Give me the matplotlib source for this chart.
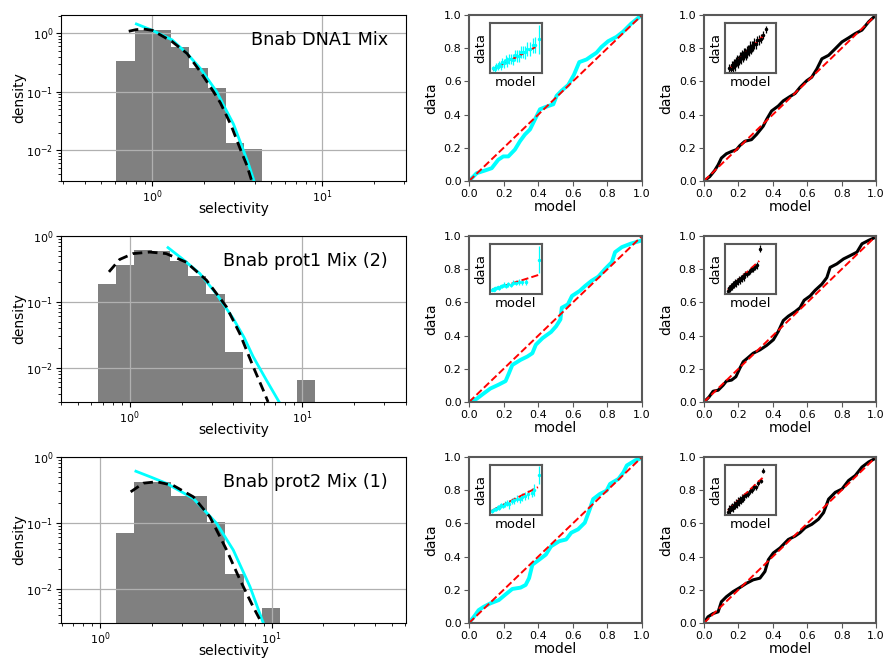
import numpy as np
import matplotlib
matplotlib.use('Agg')
import matplotlib.pyplot as plt

# ---- histogram panels (left column) ----
titles = ['Bnab DNA1 Mix', 'Bnab prot1 Mix (2)', 'Bnab prot2 Mix (1)']

edges_1 = [0.614, 0.786, 1.006, 1.288, 1.649, 2.110, 2.701, 3.457, 4.425]
heights_1 = [0.336, 1.13, 1.13, 0.58, 0.258, 0.117, 0.0132, 0.0105]
edges_2 = [0.652, 0.831, 1.058, 1.348, 1.718, 2.188, 2.788, 3.552, 4.525, 5.765, 7.345, 9.357, 11.92]
heights_2 = [0.185, 0.36, 0.62, 0.60, 0.42, 0.245, 0.13, 0.017, 0, 0, 0, 0.0065]
edges_3 = [1.24, 1.583, 2.022, 2.582, 3.297, 4.211, 5.377, 6.867, 8.769, 11.2]
heights_3 = [0.069, 0.41, 0.41, 0.254, 0.254, 0.102, 0.0167, 0, 0.0050]

# fitted densities
black_1_x = [0.726, 0.80, 0.889, 1.0, 1.306, 1.6, 1.915, 2.29, 2.51, 2.9, 3.31, 3.6, 3.84]
black_1_y = [1.08, 1.15, 1.18, 1.12, 0.72, 0.45, 0.22, 0.1, 0.065, 0.027, 0.01, 0.0055, 0.003]
cyan_1_x = [0.805, 1.0, 1.306, 1.6, 1.915, 2.39, 2.63, 3.0, 3.43, 3.7, 3.96]
cyan_1_y = [1.44, 1.12, 0.77, 0.45, 0.25, 0.1, 0.058, 0.028, 0.01, 0.0055, 0.003]
black_2_x = [0.759, 0.875, 1.045, 1.31, 1.63, 2.13, 2.79, 3.64, 4.35, 5.2, 5.94, 6.35]
black_2_y = [0.285, 0.44, 0.54, 0.57, 0.54, 0.40, 0.213, 0.084, 0.033, 0.0104, 0.0046, 0.003]
cyan_2_x = [1.67, 2.0, 2.55, 3.2, 3.98, 4.6, 5.2, 6.2, 7.36]
cyan_2_y = [0.666, 0.46, 0.27, 0.13, 0.056, 0.029, 0.0147, 0.0065, 0.003]
black_3_x = [1.51, 1.79, 2.14, 2.67, 3.5, 4.37, 5.47, 6.55, 7.8, 8.75]
black_3_y = [0.295, 0.40, 0.42, 0.37, 0.248, 0.123, 0.0385, 0.0135, 0.0053, 0.003]
cyan_3_x = [1.62, 2.0, 2.45, 3.5, 4.78, 5.98, 7.48, 8.94]
cyan_3_y = [0.607, 0.49, 0.395, 0.234, 0.098, 0.0385, 0.0107, 0.003]

hist_xlims = [(0.29, 31.0), (0.40, 40.0), (0.593, 60.6)]
hist_ylims = [(3e-3, 2.05), (3e-3, 1.0), (3e-3, 1.0)]

# ---- P-P curves (middle: cyan, right: black) ----
mid_1_x = [0, 0.044, 0.092, 0.131, 0.169, 0.198, 0.227, 0.265, 0.294, 0.323, 0.352, 0.381, 0.41, 0.448, 0.487,
           0.506, 0.535, 0.573, 0.606, 0.637, 0.679, 0.708, 0.737, 0.765, 0.804, 0.852, 0.89, 0.938, 0.987, 1.0]
mid_1_y = [0, 0.047, 0.063, 0.077, 0.128, 0.148, 0.148, 0.189, 0.239, 0.280, 0.310, 0.371, 0.432, 0.448, 0.462,
           0.513, 0.544, 0.578, 0.639, 0.716, 0.732, 0.753, 0.773, 0.807, 0.842, 0.868, 0.899, 0.949, 0.99, 1.0]
right_1_x = [0, 0.033, 0.062, 0.082, 0.101, 0.13, 0.16, 0.189, 0.208, 0.237, 0.276, 0.305, 0.344, 0.364, 0.393,
             0.432, 0.461, 0.5, 0.529, 0.558, 0.597, 0.626, 0.656, 0.685, 0.724, 0.763, 0.802, 0.84, 0.879, 0.918,
             0.957, 0.996]
right_1_y = [0, 0.026, 0.063, 0.097, 0.138, 0.164, 0.178, 0.189, 0.213, 0.239, 0.249, 0.28, 0.33, 0.371, 0.422,
             0.452, 0.483, 0.509, 0.527, 0.564, 0.604, 0.625, 0.675, 0.736, 0.757, 0.797, 0.838, 0.862, 0.888, 0.909,
             0.959, 0.996]
mid_2_x = [0, 0.045, 0.084, 0.123, 0.172, 0.211, 0.23, 0.25, 0.298, 0.337, 0.366, 0.386, 0.425, 0.474, 0.503,
           0.528, 0.536, 0.571, 0.595, 0.639, 0.672, 0.708, 0.747, 0.786, 0.825, 0.844, 0.883, 0.932, 1.0]
mid_2_y = [0, 0.02, 0.051, 0.081, 0.105, 0.126, 0.172, 0.223, 0.254, 0.274, 0.294, 0.345, 0.385, 0.422, 0.456,
           0.497, 0.568, 0.588, 0.639, 0.669, 0.7, 0.73, 0.755, 0.801, 0.842, 0.903, 0.933, 0.953, 0.974]
right_2_x = [0, 0.029, 0.053, 0.082, 0.111, 0.13, 0.16, 0.185, 0.208, 0.228, 0.257, 0.286, 0.325, 0.364, 0.403,
             0.432, 0.461, 0.49, 0.529, 0.558, 0.582, 0.617, 0.646, 0.685, 0.714, 0.733, 0.772, 0.811, 0.85, 0.889,
             0.918, 0.957, 1.0]
right_2_y = [0, 0.03, 0.065, 0.071, 0.101, 0.126, 0.132, 0.152, 0.203, 0.243, 0.268, 0.294, 0.314, 0.341, 0.375,
             0.426, 0.491, 0.517, 0.544, 0.568, 0.613, 0.639, 0.673, 0.71, 0.75, 0.811, 0.832, 0.862, 0.882, 0.903,
             0.953, 0.974, 0.994]
mid_3_x = [0, 0.035, 0.055, 0.084, 0.123, 0.172, 0.211, 0.25, 0.298, 0.327, 0.347, 0.366, 0.405, 0.444, 0.474,
           0.522, 0.561, 0.591, 0.63, 0.669, 0.698, 0.717, 0.756, 0.795, 0.815, 0.864, 0.893, 0.912, 0.961, 1.0]
mid_3_y = [0, 0.047, 0.077, 0.097, 0.118, 0.138, 0.172, 0.205, 0.213, 0.229, 0.27, 0.351, 0.381, 0.412, 0.462,
           0.493, 0.503, 0.544, 0.564, 0.604, 0.686, 0.746, 0.777, 0.797, 0.838, 0.868, 0.909, 0.949, 0.98, 0.994]
right_3_x = [0, 0.023, 0.053, 0.082, 0.101, 0.13, 0.169, 0.208, 0.247, 0.286, 0.325, 0.354, 0.374, 0.403, 0.442,
             0.471, 0.49, 0.529, 0.558, 0.588, 0.626, 0.665, 0.695, 0.724, 0.763, 0.802, 0.84, 0.879, 0.918, 0.957,
             1.0]
right_3_y = [0, 0.037, 0.057, 0.067, 0.128, 0.158, 0.189, 0.213, 0.239, 0.26, 0.27, 0.31, 0.381, 0.422, 0.452,
             0.483, 0.503, 0.523, 0.544, 0.574, 0.594, 0.625, 0.665, 0.746, 0.787, 0.807, 0.858, 0.888, 0.939, 0.97,
             0.994]

# ---- inset scatter (model vs data with errors), inset units ----
ins_mid_1_x = [0.06, 0.09, 0.12, 0.15, 0.18, 0.21, 0.24, 0.27, 0.30, 0.33, 0.36, 0.40, 0.44, 0.48, 0.52, 0.56,
               0.60, 0.64, 0.68, 0.72, 0.77, 0.82, 0.87, 0.936]
ins_mid_1_y = [0.095, 0.082, 0.139, 0.125, 0.181, 0.138, 0.224, 0.201, 0.267, 0.213, 0.28, 0.292, 0.264, 0.356,
               0.348, 0.34, 0.431, 0.423, 0.415, 0.487, 0.485, 0.562, 0.559, 0.676]
ins_mid_1_e = [0.05, 0.06, 0.06, 0.07, 0.07, 0.08, 0.08, 0.09, 0.09, 0.10, 0.10, 0.10, 0.11, 0.11, 0.12, 0.12,
               0.12, 0.13, 0.13, 0.14, 0.14, 0.15, 0.16, 0.29]
ins_mid_1_line = [0.05, 0.89]
ins_mid_1_liney = [0.07, 0.53]

ins_right_1_x = [0.09, 0.11, 0.13, 0.15, 0.17, 0.19, 0.21, 0.23, 0.25, 0.27, 0.29, 0.31, 0.33, 0.35, 0.37, 0.39,
                 0.41, 0.43, 0.45, 0.47, 0.49, 0.51, 0.53, 0.55, 0.57, 0.60, 0.63, 0.66, 0.70, 0.74, 0.795]
ins_right_1_y = [0.10, 0.09, 0.16, 0.14, 0.19, 0.16, 0.22, 0.26, 0.23, 0.27, 0.31, 0.30, 0.36, 0.33, 0.38, 0.41,
                 0.38, 0.43, 0.47, 0.46, 0.52, 0.49, 0.54, 0.55, 0.59, 0.58, 0.66, 0.66, 0.69, 0.76, 0.88]
ins_right_1_e = [0.09, 0.10, 0.09, 0.11, 0.10, 0.12, 0.10, 0.11, 0.12, 0.10, 0.11, 0.12, 0.10, 0.11, 0.12, 0.10,
                 0.11, 0.12, 0.10, 0.11, 0.12, 0.10, 0.11, 0.10, 0.11, 0.10, 0.09, 0.10, 0.09, 0.08, 0.07]
ins_right_1_line = [0.09, 0.795]
ins_right_1_liney = [0.088, 0.797]

ins_mid_2_x = [0.04, 0.06, 0.08, 0.10, 0.12, 0.15, 0.18, 0.21, 0.24, 0.27, 0.31, 0.35, 0.40, 0.45, 0.50, 0.56,
               0.62, 0.69, 0.94]
ins_mid_2_y = [0.077, 0.104, 0.09, 0.117, 0.114, 0.134, 0.124, 0.154, 0.154, 0.184, 0.167, 0.20, 0.187, 0.224,
               0.23, 0.24, 0.25, 0.253, 0.687]
ins_mid_2_e = [0.02, 0.02, 0.03, 0.02, 0.03, 0.03, 0.04, 0.03, 0.04, 0.05, 0.04, 0.05, 0.04, 0.05, 0.05, 0.06,
               0.06, 0.08, 0.27]
ins_mid_2_line = [0.04, 0.94]
ins_mid_2_liney = [0.087, 0.387]

ins_right_2_x = [0.06, 0.08, 0.10, 0.12, 0.14, 0.16, 0.18, 0.20, 0.22, 0.24, 0.26, 0.28, 0.30, 0.32, 0.34, 0.36,
                 0.38, 0.40, 0.43, 0.46, 0.49, 0.52, 0.55, 0.58, 0.62, 0.68]
ins_right_2_y = [0.07, 0.12, 0.11, 0.17, 0.15, 0.20, 0.19, 0.24, 0.22, 0.27, 0.26, 0.30, 0.28, 0.33, 0.32, 0.37,
                 0.34, 0.40, 0.41, 0.45, 0.46, 0.51, 0.50, 0.55, 0.58, 0.907]
ins_right_2_e = [0.07, 0.06, 0.07, 0.06, 0.07, 0.06, 0.07, 0.06, 0.07, 0.06, 0.07, 0.06, 0.07, 0.06, 0.07, 0.06,
                 0.07, 0.06, 0.06, 0.06, 0.06, 0.06, 0.06, 0.06, 0.07, 0.07]
ins_right_2_line = [0.058, 0.667]
ins_right_2_liney = [0.087, 0.667]

ins_mid_3_x = [0.03, 0.06, 0.09, 0.12, 0.15, 0.18, 0.21, 0.25, 0.29, 0.33, 0.37, 0.42, 0.47, 0.52, 0.57, 0.62,
               0.68, 0.74, 0.80, 0.85, 0.937]
ins_mid_3_y = [0.08, 0.10, 0.12, 0.12, 0.16, 0.15, 0.20, 0.19, 0.23, 0.25, 0.22, 0.28, 0.30, 0.33, 0.32, 0.37,
               0.38, 0.42, 0.45, 0.50, 0.80]
ins_mid_3_e = [0.03, 0.03, 0.04, 0.04, 0.04, 0.05, 0.05, 0.05, 0.06, 0.06, 0.09, 0.06, 0.07, 0.07, 0.07, 0.08,
               0.08, 0.09, 0.09, 0.12, 0.18]
ins_mid_3_line = [0.019, 0.924]
ins_mid_3_liney = [0.08, 0.56]

ins_right_3_x = [0.06, 0.08, 0.10, 0.12, 0.14, 0.16, 0.18, 0.20, 0.22, 0.24, 0.26, 0.28, 0.30, 0.32, 0.34, 0.36,
                 0.38, 0.41, 0.44, 0.48, 0.52, 0.56, 0.60, 0.65, 0.70, 0.744]
ins_right_3_y = [0.07, 0.13, 0.10, 0.16, 0.17, 0.14, 0.21, 0.19, 0.25, 0.22, 0.28, 0.26, 0.32, 0.29, 0.35, 0.33,
                 0.38, 0.40, 0.42, 0.49, 0.50, 0.56, 0.56, 0.64, 0.69, 0.893]
ins_right_3_e = [0.07, 0.07, 0.08, 0.07, 0.08, 0.07, 0.08, 0.07, 0.08, 0.07, 0.08, 0.07, 0.07, 0.07, 0.07, 0.06,
                 0.07, 0.06, 0.06, 0.06, 0.06, 0.06, 0.05, 0.06, 0.05, 0.05]
ins_right_3_line = [0.058, 0.731]
ins_right_3_liney = [0.093, 0.747]

SPINE_GREY = '0.35'


def plot_hist(ax, edges, heights, bx, by, cx, cy, title, xlim, ylim):
    edges = np.array(edges)
    heights = np.array(heights)
    keep = heights > 0
    ax.bar(edges[:-1][keep], heights[keep], width=np.diff(edges)[keep], align='edge', color='gray')
    ax.plot(cx, cy, color='cyan', lw=2.0)
    ax.plot(bx, by, color='black', lw=2.0, ls=(0, (3.5, 2)))
    ax.set_xscale('log')
    ax.set_yscale('log')
    ax.set_xlim(*xlim)
    ax.set_ylim(*ylim)
    ax.grid(True, which='major', color='#b0b0b0', lw=0.9)
    ax.set_xlabel('selectivity', fontsize=10, labelpad=-2)
    ax.set_ylabel('density', fontsize=10, labelpad=0)
    ax.tick_params(labelsize=8, pad=2)
    ax.text(0.947, 0.848, title, transform=ax.transAxes, ha='right', va='center', fontsize=12.7)


def grey_frame(ax):
    for s in ax.spines.values():
        s.set_color(SPINE_GREY)
        s.set_linewidth(1.5)


def plot_pp(ax, x, y, color, lw, ix, iy, ie, lx, ly):
    ax.plot(x, y, color=color, lw=lw)
    ax.plot([0, 1], [0, 1], color='red', ls='--', lw=1.4)
    ax.set_xlim(0, 1)
    ax.set_ylim(0, 1)
    ax.set_xticks(np.arange(0, 1.01, 0.2))
    ax.set_yticks(np.arange(0, 1.01, 0.2))
    ax.set_xlabel('model', fontsize=10, labelpad=1)
    ax.set_ylabel('data', fontsize=10)
    ax.tick_params(labelsize=8, color=SPINE_GREY, pad=2)
    grey_frame(ax)

    ins = ax.inset_axes([0.121, 0.65, 0.30, 0.30])
    ins.errorbar(ix, iy, yerr=ie, fmt='o', ms=1.5, color=color, elinewidth=0.9, capsize=0)
    ins.plot(lx, ly, color='red', ls='--', lw=1.4)
    ins.set_xlim(0, 1)
    ins.set_ylim(0, 1)
    ins.set_xticks([])
    ins.set_yticks([])
    ins.set_xlabel('model', fontsize=9.5, labelpad=2)
    ins.set_ylabel('data', fontsize=9.5, labelpad=2)
    grey_frame(ins)


def main():
    fig = plt.figure(figsize=(8.85, 6.6), dpi=100)
    bottoms = [0.7258, 0.3909, 0.0561]
    h = 0.2515

    hist_data = [
        (edges_1, heights_1, black_1_x, black_1_y, cyan_1_x, cyan_1_y),
        (edges_2, heights_2, black_2_x, black_2_y, cyan_2_x, cyan_2_y),
        (edges_3, heights_3, black_3_x, black_3_y, cyan_3_x, cyan_3_y),
    ]
    mid_data = [
        (mid_1_x, mid_1_y, ins_mid_1_x, ins_mid_1_y, ins_mid_1_e, ins_mid_1_line, ins_mid_1_liney),
        (mid_2_x, mid_2_y, ins_mid_2_x, ins_mid_2_y, ins_mid_2_e, ins_mid_2_line, ins_mid_2_liney),
        (mid_3_x, mid_3_y, ins_mid_3_x, ins_mid_3_y, ins_mid_3_e, ins_mid_3_line, ins_mid_3_liney),
    ]
    right_data = [
        (right_1_x, right_1_y, ins_right_1_x, ins_right_1_y, ins_right_1_e, ins_right_1_line, ins_right_1_liney),
        (right_2_x, right_2_y, ins_right_2_x, ins_right_2_y, ins_right_2_e, ins_right_2_line, ins_right_2_liney),
        (right_3_x, right_3_y, ins_right_3_x, ins_right_3_y, ins_right_3_e, ins_right_3_line, ins_right_3_liney),
    ]

    for i in range(3):
        b = bottoms[i]
        ax_h = fig.add_axes([0.0689, b, 0.3898, h])
        plot_hist(ax_h, *hist_data[i], titles[i], hist_xlims[i], hist_ylims[i])

        ax_m = fig.add_axes([0.530, b, 0.1955, h])
        plot_pp(ax_m, *mid_data[i][:2], 'cyan', 2.8, *mid_data[i][2:])

        ax_r = fig.add_axes([0.7955, b, 0.1944, h])
        plot_pp(ax_r, *right_data[i][:2], 'black', 2.2, *right_data[i][2:])

    fig.savefig('out.png', dpi=100)


if __name__ == '__main__':
    main()
